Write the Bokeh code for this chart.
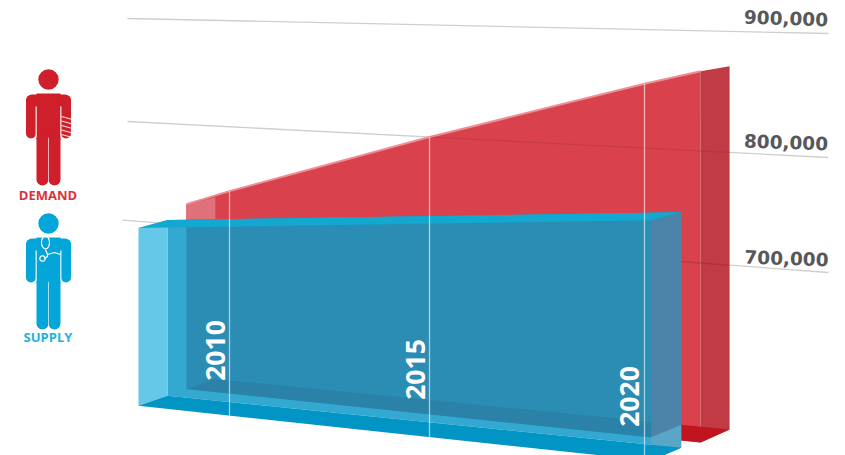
import numpy as np
from bokeh.plotting import figure
from bokeh.models import Range1d
from bokeh.embed import file_html
from bokeh.resources import INLINE
from bokeh.core.properties import value

# ---- data (thousands of physicians)
tick_values = [700, 800, 900]
tick_labels = ["700,000", "800,000", "900,000"]
years = [2010, 2015, 2020]
year_labels = ["2010", "2015", "2020"]
demand_years = [2008.87, 2010, 2015, 2020, 2021.25]
demand = [721, 737, 800, 855, 867]
supply_years = [2007.59, 2010, 2015, 2020, 2020.15]
supply = [693, 702, 718, 735, 736]
demand_base = [526, 522]
supply_base = [502, 497]

# ---- oblique projection of the illustration (year, value) -> page position
grid_left_x, grid_right_x = 127, 828
grid_left_y = [220, 121, 18]
grid_right_y = [272, 157, 33]
year_x = [229, 429, 644]
_xfit = np.polyfit(years, year_x, 2)
_lfit = np.polyfit(tick_values, grid_left_y, 2)
_rfit = np.polyfit(tick_values, grid_right_y, 2)


def fx(year):
    return float(np.polyval(_xfit, year))


def wall(x, v):
    t = (x - grid_left_x) / (grid_right_x - grid_left_x)
    return float(np.polyval(_lfit, v) * (1 - t) + np.polyval(_rfit, v) * t)


def pt(year, v):
    x = fx(year)
    return (x, wall(x, v))


def shift(p_, dx, dy):
    return (p_[0] + dx, p_[1] + dy)


def along(a, b, x):
    return (x, a[1] + (b[1] - a[1]) * (x - a[0]) / (b[0] - a[0]))


p = figure(width=845, height=455, output_backend="svg", toolbar_location=None,
           x_range=Range1d(0, 845), y_range=Range1d(455, 0),
           min_border=0, outline_line_color=None, background_fill_color="white",
           border_fill_color="white")
p.xaxis.visible = False
p.yaxis.visible = False
p.grid.visible = False


def poly(points, color, alpha=1.0):
    xs, ys = zip(*points)
    p.patch(list(xs), list(ys), fill_color=color, fill_alpha=alpha, line_color=None)


# gridlines
grid_colour = "#cfcfcf"
for i, v in enumerate(tick_values):
    x0 = 122 if v == 700 else grid_left_x
    p.line([x0, grid_right_x], [wall(x0, v), wall(grid_right_x, v)],
           line_color=grid_colour, line_width=1.3)

# demand volume
DX = 29
top_d = [pt(y, v) for y, v in zip(demand_years, demand)]
d_fl = pt(demand_years[0], demand_base[0])
d_fr = pt(demand_years[-1], demand_base[1])
d_bl = shift(d_fl, DX, -10)
d_br = shift(d_fr, DX, -13)
poly(top_d + [d_fr, d_fl], "#d9414d")
poly([top_d[0], shift(top_d[0], DX, -7), d_bl, d_fl], "#e07079")
poly([top_d[-1], shift(top_d[-1], DX, -5), d_br, d_fr], "#c13b44")
poly([d_fl, d_bl, d_br, d_fr], "#c0141e")
# highlight along the top edge
xs, ys = zip(*top_d)
p.line(list(xs), list(ys), line_color="#ee8f96", line_width=2)
# gridlines showing faintly through the red
for v in tick_values[:2]:
    x_start = 429 if v == 800 else top_d[0][0]
    p.line([x_start, 728], [wall(x_start, v), wall(728, v)],
           line_color="#8a2a33", line_alpha=0.22, line_width=1.2)
p.line([680, 728], [wall(680, 700), wall(728, 700)],
       line_color="#8a2a33", line_alpha=0.22, line_width=1.2)

# supply volume
top_s = [pt(y, v) for y, v in zip(supply_years, supply)]
s_fl = pt(supply_years[0], supply_base[0])
s_fr = pt(supply_years[-1], supply_base[1])
s_bl = shift(s_fl, 29, -10)
s_br = shift(s_fr, 30, -13)
s_tbl = shift(top_s[0], 29, -8)
s_tbr = shift(top_s[-1], 30, -8)
# back wall with white behind it
poly([s_tbl, s_tbr, s_br, s_bl], "#33a9d2")
# back wall over the red
xc = d_fl[0]
back_top = along(s_tbl, s_tbr, xc)
poly([(xc, back_top[1]), s_tbr, (s_tbr[0], along(d_fl, d_fr, s_tbr[0])[1]), d_fl], "#2b8cb4")
# red floor through the blue
e_r = along(d_bl, d_br, s_tbr[0])
poly([d_fl, d_bl, e_r, along(d_fl, d_fr, s_tbr[0])], "#2b82a9")
# left and right translucent panels
poly([top_s[0], s_tbl, s_bl, s_fl], "#66c8e8")
poly([top_s[-1], s_tbr, (s_tbr[0], along(d_bl, d_br, s_tbr[0])[1]),
      (top_s[-1][0], along(d_fl, d_fr, top_s[-1][0])[1])], "#4b84a8")
poly([(s_tbr[0], along(d_bl, d_br, s_tbr[0])[1]),
      (top_s[-1][0], along(d_fl, d_fr, top_s[-1][0])[1]),
      s_fr, s_br], "#5aa6c6")
# floor and top
poly([s_fl, s_bl, s_br, s_fr], "#0095c4")
poly([top_s[0], s_tbl, s_tbr, top_s[-1]], "#12a8d0")

# year lines
for y, yl in zip(years, year_labels):
    x = fx(y)
    top = wall(x, demand[demand_years.index(y)])
    bot = along(s_fl, s_fr, x)[1]
    p.line([x, x], [top, bot], line_color="white", line_alpha=0.6, line_width=1.3)

year_label_x = [x - 14 for x in year_x]
year_label_x[2] -= 1
year_label_y = [350, 369, 396]
p.text(year_label_x, year_label_y, text=year_labels, angle=np.pi / 2, text_color="white",
       text_font=value("Open Sans"), text_font_style="bold", text_font_size="26.5px",
       text_align="center", text_baseline="middle")

# value labels
p.text([786, 785.5, 785.5], [258, 142, 18], text=tick_labels, angle=np.deg2rad(-2),
       text_color="#58585a", text_font=value("DejaVu Sans"), text_font_style="bold",
       text_font_size="18.5px", text_align="center", text_baseline="middle")


# person icons
def person(cy, colour):
    cx = 48
    p.circle([cx], [cy], radius=10.2, fill_color=colour, line_color=None)
    p.line([cx - 16.5, cx + 16.5], [cy + 21, cy + 21], line_color=colour, line_width=12, line_cap="round")
    p.line([cx - 17.5, cx - 17.5], [cy + 21, cy + 54], line_color=colour, line_width=10, line_cap="round")
    p.line([cx + 17.5, cx + 17.5], [cy + 21, cy + 54], line_color=colour, line_width=10, line_cap="round")
    poly([(cx - 12, cy + 14), (cx + 12, cy + 14), (cx + 12, cy + 60), (cx - 12, cy + 60)], colour)
    p.line([cx - 6, cx - 6], [cy + 58, cy + 100], line_color=colour, line_width=12, line_cap="round")
    p.line([cx + 6, cx + 6], [cy + 58, cy + 100], line_color=colour, line_width=12, line_cap="round")
    p.line([cx, cx], [cy + 58, cy + 105], line_color="white", line_alpha=0.55, line_width=1)
    p.line([cx - 12.5, cx - 12.5], [cy + 27, cy + 58], line_color="white", line_alpha=0.8, line_width=1)
    p.line([cx + 12.5, cx + 12.5], [cy + 27, cy + 58], line_color="white", line_alpha=0.8, line_width=1)


red_person, blue_person = "#cf1f2a", "#04a5d8"
person(79, red_person)
person(223, blue_person)

# wrist band on the demand figure
for dy in range(0, 5):
    p.line([61, 72], [116 + dy * 4.5, 119 + dy * 4.5], line_color="white", line_alpha=0.85, line_width=1.1)
# stethoscope on the supply figure
a = np.linspace(0, 2 * np.pi, 40)
p.line(45 + 4 * np.cos(a), 242 + 7 * np.sin(a) * 0.9, line_color="white", line_width=1.2)
p.line(42 + 2.7 * np.cos(a), 258 + 2.7 * np.sin(a), line_color="white", line_width=1.2)
p.line([45, 47, 47, 44], [249, 254, 256, 258], line_color="white", line_width=1.2)
p.line([47, 54, 60], [254, 252, 254], line_color="white", line_width=1.2)

p.text([47.5], [194], text=["DEMAND"], text_color="#d8333d", text_font=value("Open Sans"),
       text_font_style="bold", text_font_size="13px", text_align="center", text_baseline="middle")
p.text([47.5], [336], text=["SUPPLY"], text_color="#1fb2e0", text_font=value("Open Sans"),
       text_font_style="bold", text_font_size="13px", text_align="center", text_baseline="middle")

open("out.html", "w").write(file_html(p, INLINE))
